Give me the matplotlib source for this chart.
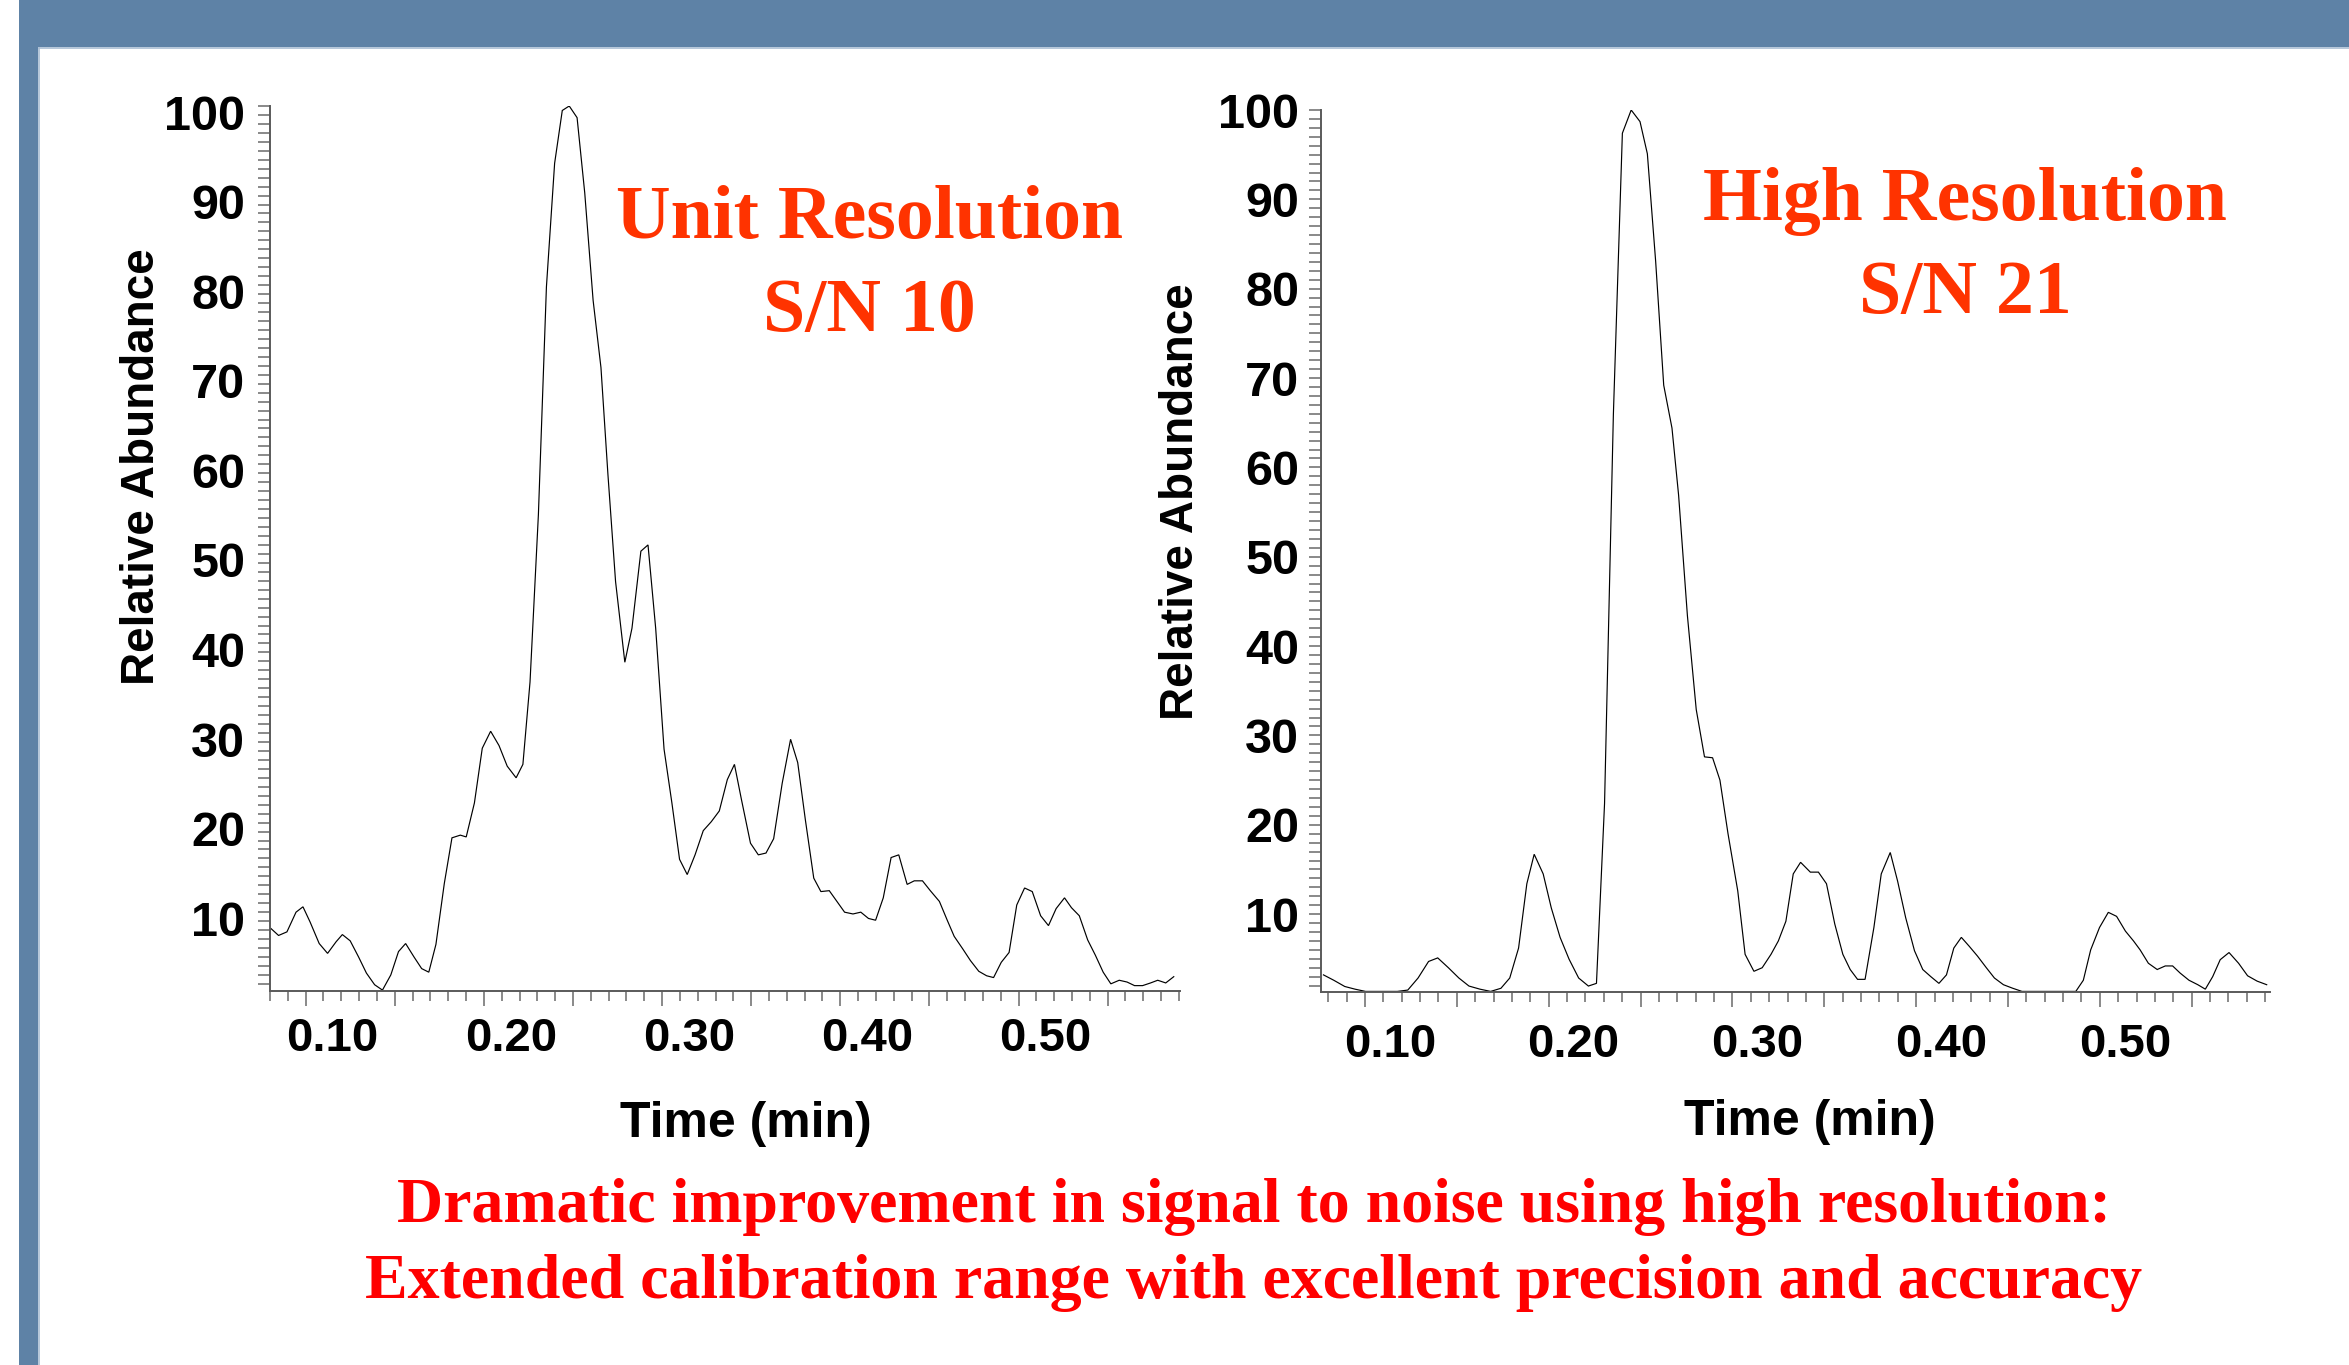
import matplotlib
matplotlib.use('Agg')
import matplotlib.pyplot as plt
from matplotlib.patches import Rectangle
from matplotlib.lines import Line2D
import matplotlib.transforms as mtransforms
import numpy as np

plt.rcParams['font.family'] = ['Liberation Sans', 'DejaVu Sans']

W, H, DPI = 2349, 1365, 100

# ---------------- data ----------------
unit_time = [0.0653, 0.0697, 0.0744, 0.0795, 0.0834, 0.0874, 0.0925, 0.0972, 0.1020, 0.1055,
             0.1099, 0.1146, 0.1190, 0.1236, 0.1280, 0.1327, 0.1370, 0.1410, 0.1457, 0.1500,
             0.1540, 0.1580, 0.1627, 0.1670, 0.1717, 0.1750, 0.1796, 0.1840, 0.1887, 0.1934,
             0.1980, 0.2030, 0.2068, 0.2108, 0.2155, 0.2200, 0.2246, 0.2289, 0.2328, 0.2372,
             0.2415, 0.2462, 0.2506, 0.2545, 0.2588, 0.2640, 0.2680, 0.2730, 0.2770, 0.2813,
             0.2860, 0.2904, 0.2947, 0.2990, 0.3034, 0.3080, 0.3125, 0.3170, 0.3215, 0.3255,
             0.3294, 0.3345, 0.3389, 0.3432, 0.3475, 0.3523, 0.3570, 0.3610, 0.3653, 0.3700,
             0.3740, 0.3787, 0.3830, 0.3873, 0.3920, 0.3964, 0.4007, 0.4047, 0.4090, 0.4134,
             0.4177, 0.4224, 0.4264, 0.4310, 0.4354, 0.4405, 0.4449, 0.4488, 0.4536, 0.4579,
             0.4626, 0.4670, 0.4709, 0.4752, 0.4796, 0.4839, 0.4883, 0.4926, 0.4973, 0.5017,
             0.5060, 0.5107, 0.5146, 0.5190, 0.5237, 0.5280, 0.5324, 0.5367, 0.5414, 0.5458,
             0.5500, 0.5545, 0.5590, 0.5630, 0.5675, 0.5720]
unit_abund = [8.2, 7.4, 7.8, 10.0, 10.6, 8.9, 6.5, 5.4, 6.7, 7.5,
              6.8, 5.0, 3.2, 1.9, 1.3, 3.0, 5.6, 6.5, 5.0, 3.7,
              3.3, 6.4, 13.2, 18.3, 18.6, 18.4, 22.2, 28.3, 30.2, 28.6,
              26.3, 25.0, 26.5, 35.7, 54.4, 79.8, 93.6, 99.5, 100.0, 98.7,
              90.3, 78.3, 70.8, 58.9, 46.9, 37.9, 41.7, 50.3, 51.0, 41.7,
              28.2, 22.2, 15.9, 14.2, 16.4, 19.1, 20.1, 21.3, 24.8, 26.5,
              22.6, 17.7, 16.4, 16.6, 18.2, 24.4, 29.3, 26.7, 20.3, 13.8,
              12.3, 12.4, 11.2, 10.0, 9.8, 10.0, 9.3, 9.1, 11.6, 16.1,
              16.4, 13.1, 13.5, 13.5, 12.4, 11.2, 9.1, 7.3, 5.9, 4.6,
              3.4, 2.9, 2.7, 4.4, 5.5, 10.8, 12.7, 12.3, 9.6, 8.5,
              10.4, 11.6, 10.5, 9.6, 6.9, 5.2, 3.3, 2.0, 2.4, 2.2,
              1.8, 1.8, 2.1, 2.4, 2.1, 2.8]

high_time = [0.0638, 0.0694, 0.0754, 0.0810, 0.0867, 0.0928, 0.0984, 0.1040, 0.1097, 0.1153,
             0.1210, 0.1260, 0.1318, 0.1375, 0.1430, 0.1490, 0.1548, 0.1604, 0.1652, 0.1700,
             0.1745, 0.1785, 0.1834, 0.1878, 0.1926, 0.1975, 0.2027, 0.2080, 0.2124, 0.2168,
             0.2216, 0.2265, 0.2313, 0.2361, 0.2401, 0.2446, 0.2490, 0.2535, 0.2571, 0.2619,
             0.2667, 0.2712, 0.2756, 0.2796, 0.2840, 0.2893, 0.2933, 0.2981, 0.3026, 0.3074,
             0.3114, 0.3155, 0.3195, 0.3235, 0.3288, 0.3332, 0.3376, 0.3421, 0.3465, 0.3505,
             0.3545, 0.3586, 0.3634, 0.3674, 0.3723, 0.3763, 0.3807, 0.3855, 0.3900, 0.3944,
             0.3988, 0.4029, 0.4069, 0.4110, 0.4153, 0.4198, 0.4246, 0.4290, 0.4339, 0.4390,
             0.4440, 0.4490, 0.4540, 0.4590, 0.4640, 0.4690, 0.4733, 0.4774, 0.4814, 0.4862,
             0.4910, 0.4955, 0.5003, 0.5047, 0.5083, 0.5128, 0.5176, 0.5220, 0.5260, 0.5301,
             0.5349, 0.5397, 0.5438, 0.5478, 0.5519, 0.5567, 0.5619, 0.5668, 0.5720, 0.5772]
high_abund = [3.2, 2.6, 1.9, 1.6, 1.35, 1.35, 1.35, 1.35, 1.5, 2.85,
              4.7, 5.1, 4.0, 2.85, 1.95, 1.6, 1.35, 1.7, 2.85, 6.2,
              13.4, 16.7, 14.5, 10.7, 7.4, 4.95, 2.85, 1.95, 2.25, 22.4,
              65.9, 97.4, 100.0, 98.7, 95.1, 83.1, 69.2, 64.4, 56.9, 43.4,
              32.9, 27.6, 27.5, 25.0, 19.0, 12.6, 5.5, 3.6, 4.0, 5.5,
              7.0, 9.2, 14.5, 15.8, 14.7, 14.7, 13.4, 8.9, 5.5, 3.8,
              2.7, 2.7, 8.5, 14.5, 16.9, 13.7, 9.6, 5.9, 3.8, 3.0,
              2.25, 3.2, 6.2, 7.4, 6.4, 5.3, 4.0, 2.85, 2.1, 1.7,
              1.35, 1.35, 1.35, 1.35, 1.35, 1.35, 1.35, 2.6, 6.0, 8.5,
              10.2, 9.75, 8.1, 7.0, 6.0, 4.5, 3.8, 4.2, 4.2, 3.4,
              2.6, 2.1, 1.6, 3.0, 4.9, 5.7, 4.5, 3.1, 2.5, 2.1]

x_tick_values = [0.10, 0.20, 0.30, 0.40, 0.50]
x_tick_labels = ['0.10', '0.20', '0.30', '0.40', '0.50']
y_tick_values = [10, 20, 30, 40, 50, 60, 70, 80, 90, 100]
y_tick_labels = ['10', '20', '30', '40', '50', '60', '70', '80', '90', '100']

titles = ['Unit Resolution\nS/N 10', 'High Resolution\nS/N 21']
caption = ('Dramatic improvement in signal to noise using high resolution:\n'
           'Extended calibration range with excellent precision and accuracy')

# ---------------- figure & decoration ----------------
fig = plt.figure(figsize=(W / DPI, H / DPI), dpi=DPI)
fig.patch.set_facecolor('white')
banner = '#5E82A6'
fig.add_artist(Rectangle((19 / W, 1 - 47 / H), 1 - 19 / W, 47 / H,
                         transform=fig.transFigure, facecolor=banner, edgecolor='none', zorder=0))
fig.add_artist(Rectangle((19 / W, 0), 19 / W, 1, transform=fig.transFigure,
                         facecolor=banner, edgecolor='none', zorder=0))
fig.add_artist(Line2D([38.5 / W, 1], [1 - 47.5 / H, 1 - 47.5 / H], transform=fig.transFigure,
                      color='#A9BDD3', lw=1.2))
fig.add_artist(Line2D([38.5 / W, 38.5 / W], [0, 1 - 47.5 / H], transform=fig.transFigure,
                      color='#A9BDD3', lw=1.2))

spine_col = '#5A5A5A'
tick_col = '#6A6A6A'


def panel(rect, t, a, xlim, ylim, tick0, title, title_pos, xlab_pos, ylab_pos,
          ypad, xpad, ylab_shift):
    ax = fig.add_axes(rect)
    ax.plot(t, a, color='black', lw=0.85, solid_joinstyle='miter')
    ax.set_xlim(*xlim)
    ax.set_ylim(*ylim)
    for s in ['top', 'right']:
        ax.spines[s].set_visible(False)
    for s in ['left', 'bottom']:
        ax.spines[s].set_color(spine_col)
        ax.spines[s].set_linewidth(1.4)

    # x ticks: long every 0.05, short every 0.01 (offset from labels as in source)
    long_ticks = np.arange(tick0, xlim[1] + 1e-9, 0.05)
    short_ticks = np.arange(tick0 - 0.02, xlim[1] + 1e-9, 0.01)
    short_ticks = short_ticks[short_ticks >= xlim[0] - 1e-9]
    ax.set_xticks(long_ticks)
    ax.set_xticks(short_ticks, minor=True)
    ax.xaxis.set_tick_params(which='major', length=10.5, width=1.1, color=tick_col,
                             labelbottom=False)
    ax.xaxis.set_tick_params(which='minor', length=7.5, width=1.1, color=tick_col)

    sec = ax.secondary_xaxis('bottom')
    sec.set_ticks(x_tick_values, x_tick_labels, fontsize=34, fontweight='bold')
    sec.tick_params(length=0, pad=xpad)
    sec.spines['bottom'].set_visible(False)

    # y ticks
    ax.set_yticks(y_tick_values, y_tick_labels, fontsize=35, fontweight='bold')
    ax.set_yticks(np.arange(2, 100, 1), minor=True)
    ax.yaxis.set_tick_params(which='both', length=9, width=1.1, color=tick_col, pad=ypad)
    if ylab_shift:
        off = mtransforms.ScaledTranslation(0, -ylab_shift / DPI, fig.dpi_scale_trans)
        for lab in ax.get_yticklabels():
            lab.set_transform(lab.get_transform() + off)

    ax.set_xlabel('Time (min)', fontsize=36, fontweight='bold')
    ax.xaxis.set_label_coords(*xlab_pos)
    ax.set_ylabel('Relative Abundance', fontsize=33, fontweight='bold')
    ax.yaxis.set_label_coords(*ylab_pos)

    ax.text(title_pos[0], title_pos[1], title, transform=ax.transAxes, ha='center',
            va='center', multialignment='center', fontsize=54.5, fontweight='bold',
            family=['Liberation Serif', 'DejaVu Serif'], color='#FF3300', linespacing=1.45)
    return ax


# left: x 270..1180 px, y 106..991 px
panel([270 / W, 1 - 991 / H, 910 / W, 885 / H], unit_time, unit_abund,
      (0.0649, 0.5755), (1.2, 100), 0.0849, titles[0],
      (0.659, 0.819), (0.523, -0.124), (-0.116, 0.593), 8.9, 18.5, 6)

# right: x 1321..2270 px, y 110..992 px
panel([1320.7 / W, 1 - 992.3 / H, 949.3 / W, 882.3 / H], high_time, high_abund,
      (0.0623, 0.579), (1.25, 100), 0.0864, titles[1],
      (0.679, 0.844), (0.515, -0.121), (-0.124, 0.556), 6.5, 22, 0)

fig.text(1254 / W, 1 - 1245 / H, caption, ha='center', va='center',
         multialignment='center', fontsize=46, fontweight='bold',
         family=['Liberation Serif', 'DejaVu Serif'], color='#FF0000', linespacing=1.41)

fig.savefig('out.png', dpi=DPI, facecolor='white')
